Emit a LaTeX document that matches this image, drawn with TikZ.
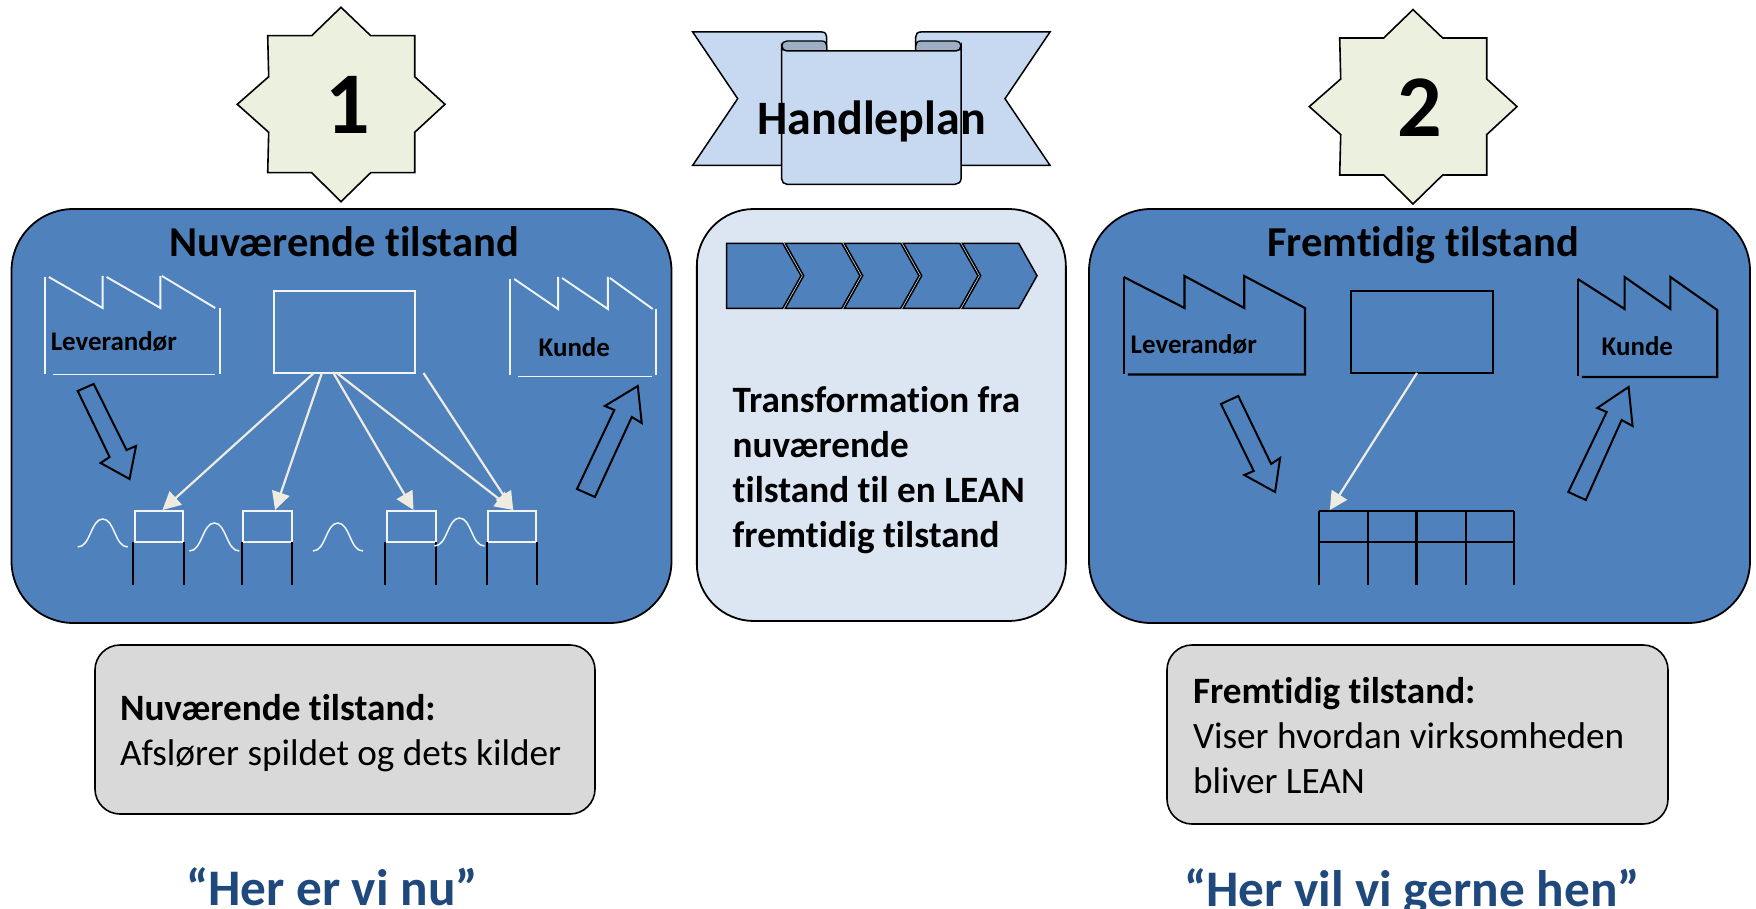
\documentclass[tikz,border=0pt]{standalone}
\usepackage{fontspec}
\setmainfont{Carlito}[Ligatures=NoCommon]
\usetikzlibrary{arrows.meta}
\definecolor{panelblue}{HTML}{4F81BD}
\definecolor{midpanel}{HTML}{DCE6F2}
\definecolor{ribbon}{HTML}{C6D9F1}
\definecolor{ribbondark}{HTML}{9EAEC4}
\definecolor{starfill}{HTML}{EBF1DE}
\definecolor{greybox}{HTML}{D9D9D9}
\definecolor{cream}{HTML}{EEECE1}
\definecolor{quotecol}{HTML}{1F497D}
\newcommand{\fs}[1]{\fontsize{#1}{#1}\selectfont}
\tikzset{
  txt/.style={inner sep=0pt,outer sep=0pt,anchor=base west,text=black},
  txtc/.style={inner sep=0pt,outer sep=0pt,anchor=base,text=black},
  bigpanel/.style={draw=black,line width=1.8pt,fill=panelblue,rounded corners=62pt,inner sep=0pt,minimum width=660pt,minimum height=414pt},
  midbox/.style={draw=black,line width=1.8pt,fill=midpanel,rounded corners=57pt,inner sep=0pt,minimum width=369pt,minimum height=412pt},
  notebox/.style={draw=black,line width=1.6pt,fill=greybox,rounded corners=25pt,inner sep=0pt},
  wline/.style={draw=white!92!panelblue,line width=1.9pt},
  kline/.style={draw=black,line width=2.1pt},
  wbox/.style={draw=white!92!panelblue,line width=1.9pt,inner sep=0pt,outer sep=0pt},
  kbox/.style={draw=black,line width=2.3pt,inner sep=0pt,outer sep=0pt},
  flow/.style={draw=cream,line width=2.2pt,-{Triangle[length=18pt,width=18pt,fill=cream]}},
  blockarrow/.style={draw=black,line width=2pt,fill=panelblue,line join=miter},
  star/.style={draw=black,line width=1.6pt,fill=starfill,line join=miter},
  chev/.style={draw=black,line width=1.5pt,fill=panelblue,line join=miter},
  rib/.style={draw=black,line width=1.5pt,fill=ribbon,line join=miter},
  ribd/.style={draw=black,line width=1.3pt,fill=ribbondark},
  bellcurve/.pic={\draw[wline,line width=1.5pt] (0,0) .. controls (13,0) and (13,-28) .. (25,-28) .. controls (37,-28) and (37,0) .. (50,0);}
}
\begin{document}
\begin{tikzpicture}[x=1pt,y=-1pt]
\useasboundingbox (0,0) rectangle (1756,909);

% stars
\draw[star] (341,7.3) -- (370.7,35.7) -- (414.7,35.7) -- (414.7,76.7) -- (445,104.3) -- (414.7,132.3) -- (414.7,172.7) -- (370.7,172.7) -- (341,201.7) -- (311.7,172.7) -- (267.7,172.7) -- (268.7,132.3) -- (237.3,104.3) -- (268.7,76.7) -- (267.7,35.7) -- (311.7,35.7) -- cycle;
\begin{scope}[shift={(1072,2.3)}]
\draw[star] (341,7.3) -- (370.7,35.7) -- (414.7,35.7) -- (414.7,76.7) -- (445,104.3) -- (414.7,132.3) -- (414.7,172.7) -- (370.7,172.7) -- (341,201.7) -- (311.7,172.7) -- (267.7,172.7) -- (268.7,132.3) -- (237.3,104.3) -- (268.7,76.7) -- (267.7,35.7) -- (311.7,35.7) -- cycle;
\end{scope}
\node[txtc] (n1) at (347.5,134) {\fs{88}\bfseries 1};
\node[txtc] (n2) at (1420,137) {\fs{88}\bfseries 2};

% banner
\draw[rib] (692.7,32) -- (821.7,32) .. controls (825,32) and (826.7,34) .. (826.7,37) -- (826.7,60) -- (790,60) -- (790,165.3) -- (692.7,165.3) -- (737.7,98.7) -- cycle;
\draw[rib] (1050,32) -- (920.7,32) .. controls (917.4,32) and (915.7,34) .. (915.7,37) -- (915.7,60) -- (950,60) -- (950,165.3) -- (1050,165.3) -- (1005,98.7) -- cycle;
\draw[ribd] (781.7,46) .. controls (781.7,43) and (784,41) .. (787,41) -- (821.7,41) .. controls (825,41) and (826.7,43) .. (826.7,46) -- (826.7,52) -- (787,52) .. controls (784,52) and (781.7,49) .. (781.7,46) -- cycle;
\draw[ribd] (961,46) .. controls (961,43) and (958.7,41) .. (955.7,41) -- (920.7,41) .. controls (917.4,41) and (915.7,43) .. (915.7,46) -- (915.7,52) -- (955.7,52) .. controls (958.7,52) and (961,49) .. (961,46) -- cycle;
\draw[rib] (781.7,46) .. controls (781.7,49) and (784,51) .. (787,51) -- (955.7,51) .. controls (958.7,51) and (961,49) .. (961,46) -- (961,179) .. controls (961,182) and (958,184.3) .. (955,184.3) -- (787,184.3) .. controls (784,184.3) and (781.7,182) .. (781.7,179) -- cycle;
\node[txtc] (handle) at (871.7,135) {\fs{48}\bfseries Handleplan};

% left panel
\node[bigpanel] (leftp) at (341.5,416) {};
\node[txtc] (lefttitle) at (344,257) {\fs{42.6}\bfseries Nuværende tilstand};
\begin{scope}[xscale=0.9965]
\draw[wline] (45,277) -- (45,374);
\draw[wline] (49,277) -- (103,308) -- (103,276);
\draw[wline] (107,277) -- (161,308) -- (161,276);
\draw[wline] (162.5,276) -- (216,308);
\draw[wline] (221,308) -- (221,374);
\draw[wline] (53,374.5) -- (216,374.5);
\node[txt] (lev1) at (51,350.5) {\fs{26.9}\bfseries Leverandør};
\draw[wline] (512,279) -- (512,375);
\draw[wline] (516,279) -- (560,309) -- (560,277);
\draw[wline] (564,278) -- (610,309) -- (610,277);
\draw[wline] (612,278) -- (655,309);
\draw[wline] (658,309) -- (658,375);
\draw[wline] (520,376.5) -- (654,376.5);
\node[txt] (kun1) at (540.5,356.5) {\fs{26.9}\bfseries Kunde};
\node[wbox,minimum width=141pt,minimum height=82pt] (plan1) at (345.75,332) {};
\draw[blockarrow] (78,391) -- (94,384) -- (127,450) -- (136.5,446) -- (130,479) -- (101,463) -- (110,457) -- cycle;
\draw[blockarrow] (579,489) -- (597,497) -- (634,417) -- (644,423) -- (640,386) -- (607,406) -- (616.5,410) -- cycle;
\foreach \nm/\xa/\xb/\la/\lb in {a/136/183.5/133.5/185,b/244/292.6/243/293,c/388/437/386.5/437.4,d/490/538/489/539}{
  \node[wbox,minimum width=\xb pt-\xa pt,minimum height=31pt] (box\nm) at ({(\xa+\xb)/2},526.5) {};
  \draw[kline] (\la,542) -- (\la,585);
  \draw[kline] (\lb,542) -- (\lb,585);
}
\pic at (78,547) {bellcurve};
\pic at (190,551) {bellcurve};
\pic at (314,551) {bellcurve};
\pic at (436,546) {bellcurve};
\coordinate (s1) at (315,373);
\coordinate (s2) at (323,373);
\coordinate (s3) at (334,372);
\coordinate (s4) at (338,373);
\coordinate (s5) at (425,373);
\coordinate (t1) at (163,510);
\coordinate (t2) at (276,510);
\coordinate (t3) at (415,510);
\coordinate (t4) at (515,510);
\draw[flow] (s1) -- (t1);
\draw[flow] (s2) -- (t2);
\draw[flow] (s3) -- (t3);
\draw[flow] (s4) -- (t4);
\draw[flow] (s5) -- (t4);
\end{scope}

% middle panel
\node[midbox] (midp) at (881.35,415) {};
\draw[chev] (726.7,243.3) -- (782.7,243.3) -- (801,275.7) -- (782.7,308.3) -- (726.7,308.3) -- cycle;
\foreach \k in {1,2,3,4}{
  \draw[chev] ({726.4+59*\k},243.3) -- ({782.7+59*\k},243.3) -- ({801+59*\k},275.7) -- ({782.7+59*\k},308.3) -- ({726.4+59*\k},308.3) -- ({744.7+59*\k},275.7) -- cycle;
}
\node[txt] (m1) at (732.7,412) {\fs{37.2}\bfseries Transformation fra};
\node[txt] (m2) at (732.7,457) {\fs{37.2}\bfseries nuværende};
\node[txt] (m3) at (732.7,502) {\fs{37.2}\bfseries tilstand til en LEAN};
\node[txt] (m4) at (732.7,547) {\fs{37.2}\bfseries fremtidig tilstand};

% right panel
\node[bigpanel,minimum width=661pt] (rightp) at (1419.5,416) {};
\node[txtc] (righttitle) at (1423,257) {\fs{42.6}\bfseries Fremtidig tilstand};
\begin{scope}[shift={(4.6,0)},xscale=0.9957]
\draw[kline] (1124,277) -- (1124,374);
\draw[kline] (1124,277) -- (1185,308) -- (1185,276) -- (1245,308) -- (1245,276) -- (1306,308) -- (1306,374.5) -- (1128,374.5);
\node[txt] (lev2) at (1131,353.5) {\fs{26.9}\bfseries Leverandør};
\draw[kline] (1580,279) -- (1580,376);
\draw[kline] (1580,279) -- (1627,309) -- (1627,277) -- (1673,309) -- (1673,277) -- (1720,310) -- (1720,377) -- (1584,377);
\node[txt] (kun2) at (1604,355.5) {\fs{26.9}\bfseries Kunde};
\node[kbox,minimum width=142pt,minimum height=82pt] (plan2) at (1423.5,332) {};
\draw[blockarrow] (1221.6,404) -- (1239,396) -- (1272,464) -- (1281,458) -- (1276,492) -- (1245,475) -- (1254.5,471) -- cycle;
\draw[blockarrow] (1570.5,492) -- (1588,500) -- (1624,420) -- (1635,426) -- (1631,387) -- (1599.5,408) -- (1609,412) -- cycle;
\foreach \x in {1320,1369,1418,1467.5,1516}{\draw[kline] (\x,511) -- (\x,585);}
\draw[kline] (1320,511) -- (1516,511);
\draw[kline] (1320,542) -- (1516,542);
\coordinate (s6) at (1418.5,373);
\coordinate (t6) at (1331,510);
\draw[flow] (s6) -- (t6);
\end{scope}

% notes
\node[notebox,minimum width=500pt,minimum height=169pt] (note1) at (345,729.5) {};
\node[txt] (n1a) at (120,720) {\fs{37.2}\bfseries Nuværende tilstand:};
\node[txt] (n1b) at (120,765) {\fs{37.2}Afslører spildet og dets kilder};
\node[notebox,minimum width=501pt,minimum height=179pt] (note2) at (1417.5,734.5) {};
\node[txt] (n2a) at (1193,703) {\fs{37.2}\bfseries Fremtidig tilstand:};
\node[txt] (n2b) at (1193,748) {\fs{37.2}Viser hvordan virksomheden};
\node[txt] (n2c) at (1193,793) {\fs{37.2}bliver LEAN};

% quotes
\node[txtc,text=quotecol] (q1) at (332,905) {\fs{51.3}\bfseries “Her er vi nu”};
\node[txtc,text=quotecol] (q2) at (1412,906) {\fs{51.3}\bfseries “Her vil vi gerne hen”};
\end{tikzpicture}
\end{document}
